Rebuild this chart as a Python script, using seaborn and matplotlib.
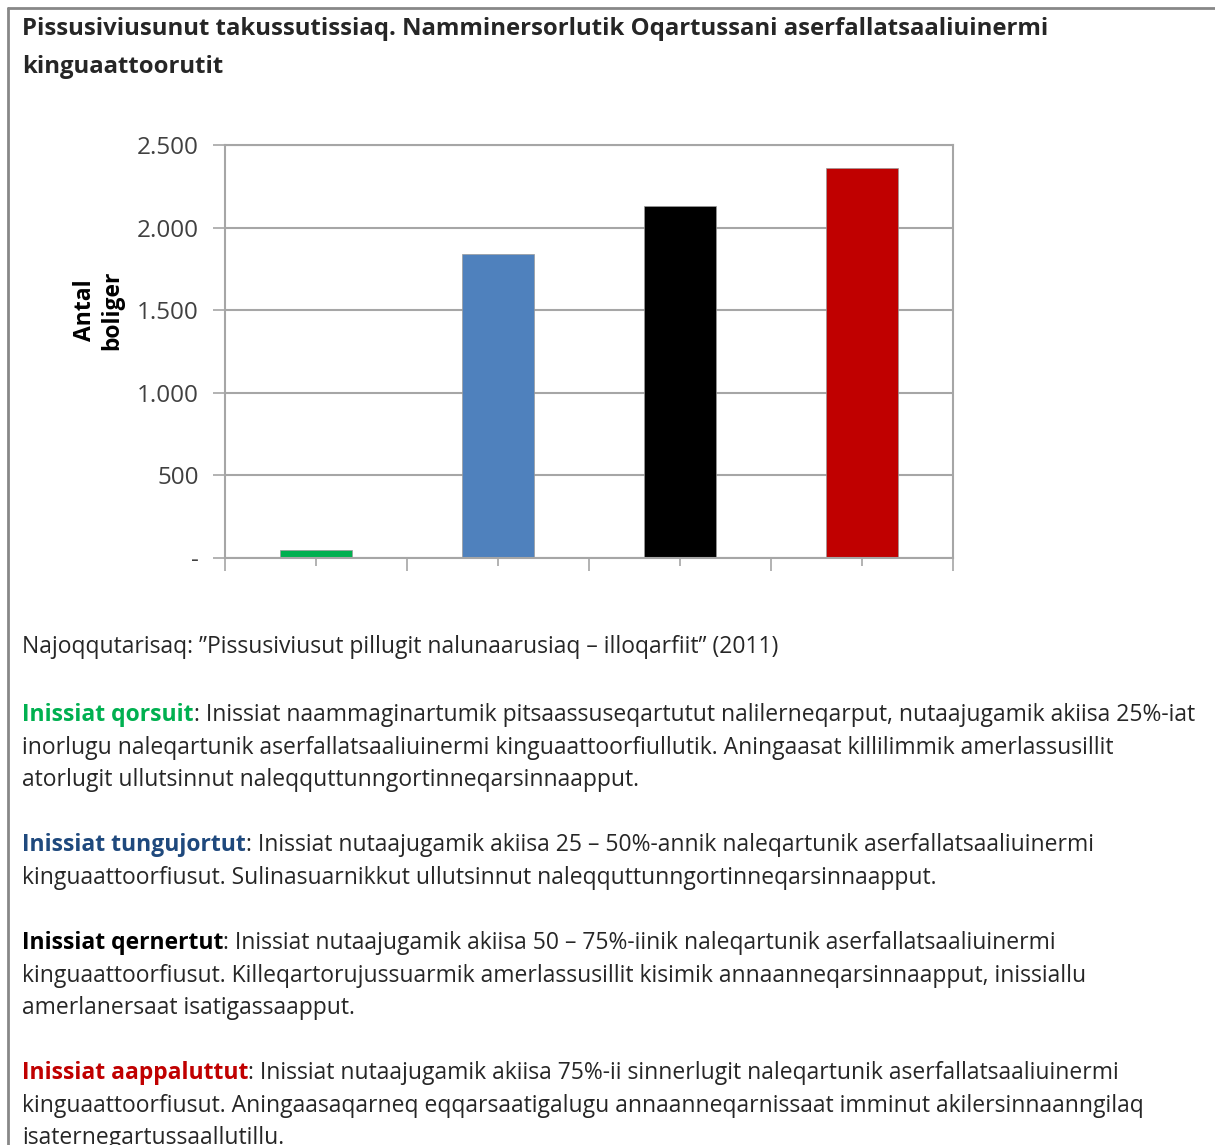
import matplotlib
matplotlib.use("Agg")
import matplotlib.pyplot as plt
import matplotlib.ticker as mticker
from matplotlib import font_manager
from matplotlib.lines import Line2D
import pandas as pd
import seaborn as sns

# data
categories = ["Inissiat qorsuit", "Inissiat tungujortut", "Inissiat qernertut", "Inissiat aappaluttut"]
values = [50, 1840, 2130, 2360]
bar_colors = ["#00b050", "#4f81bd", "#000000", "#c00000"]
y_ticks = [0, 500, 1000, 1500, 2000, 2500]

title = "Pissusiviusunut takussutissiaq. Namminersorlutik Oqartussani aserfallatsaaliuinermi\nkinguaattoorutit"
y_label = "Antal\nboliger"
source = "Najoqqutarisaq: \u201dPissusiviusut pillugit nalunaarusiaq \u2013 illoqarfiit\u201d (2011)"

paragraphs = [
    ("Inissiat qorsuit", "#00b050",
     [": Inissiat naammaginartumik pitsaassuseqartutut nalilerneqarput, nutaajugamik akiisa 25%-iat",
      "inorlugu naleqartunik aserfallatsaaliuinermi kinguaattoorfiullutik. Aningaasat killilimmik amerlassusillit",
      "atorlugit ullutsinnut naleqquttunngortinneqarsinnaapput."]),
    ("Inissiat tungujortut", "#1f497d",
     [": Inissiat nutaajugamik akiisa 25 \u2013 50%-annik naleqartunik aserfallatsaaliuinermi",
      "kinguaattoorfiusut. Sulinasuarnikkut ullutsinnut naleqquttunngortinneqarsinnaapput."]),
    ("Inissiat qernertut", "#000000",
     [": Inissiat nutaajugamik akiisa 50 \u2013 75%-iinik naleqartunik aserfallatsaaliuinermi",
      "kinguaattoorfiusut. Killeqartorujussuarmik amerlassusillit kisimik annaanneqarsinnaapput, inissiallu",
      "amerlanersaat isatigassaapput."]),
    ("Inissiat aappaluttut", "#c00000",
     [": Inissiat nutaajugamik akiisa 75%-ii sinnerlugit naleqartunik aserfallatsaaliuinermi",
      "kinguaattoorfiusut. Aningaasaqarneq eqqarsaatigalugu annaanneqarnissaat imminut akilersinnaanngilaq",
      "isaternegartussaallutillu."]),
]

sns.set_theme(style="white")
installed = {f.name for f in font_manager.fontManager.ttflist}
main_font = "Liberation Sans Narrow" if "Liberation Sans Narrow" in installed else "Open Sans"
plt.rcParams["font.family"] = [main_font, "DejaVu Sans"]

W, H = 1215, 1145
body_fs = 16.5
fig = plt.figure(figsize=(W / 100, H / 100), dpi=100)
ax = fig.add_axes([225 / W, 1 - 558 / H, (953 - 225) / W, (558 - 145) / H])

df = pd.DataFrame({"kategori": categories, "antal": values})
sns.barplot(data=df, x="kategori", y="antal", hue="kategori", palette=bar_colors,
            width=0.4, legend=False, ax=ax, saturation=1, edgecolor="#9a9a9a", linewidth=0.5)

grid_c = "#a6a6a6"
ax.set_ylim(0, 2500)
ax.set_xlim(-0.5, len(categories) - 0.5)
ax.set_yticks(y_ticks)
ax.yaxis.set_major_formatter(mticker.FuncFormatter(
    lambda v, p: "-" if v == 0 else f"{int(v):,}".replace(",", ".")))
ax.set_xticks([i - 0.5 for i in range(len(categories) + 1)])
ax.set_xticks(range(len(categories)), minor=True)
ax.set_xticklabels([])
ax.set_xlabel("")
ax.set_ylabel(y_label, fontsize=16.5, fontweight="bold", color="black")
ax.yaxis.set_label_coords(-0.138, 0.60)
ax.grid(axis="y", color=grid_c, linewidth=1.5)
ax.set_axisbelow(True)
ax.tick_params(axis="y", which="major", length=9, color=grid_c, width=1.2,
               labelsize=17.5, labelcolor="#404040", left=True, pad=10)
ax.tick_params(axis="x", which="major", length=9, color=grid_c, width=1.2, bottom=True)
ax.tick_params(axis="x", which="minor", length=6, color=grid_c, width=1.2, bottom=True)
for s in ax.spines.values():
    s.set_color(grid_c)
    s.set_linewidth(1.5)

# frame of the screenshot
fig.add_artist(Line2D([8 / W, 8 / W], [0, 1 - 8 / H], color="#888888", linewidth=2))
fig.add_artist(Line2D([8 / W, 1], [1 - 8 / H, 1 - 8 / H], color="#888888", linewidth=2))

fig.text(22 / W, 1 - 48 / H, title, fontsize=17.2, fontweight="bold", va="center",
         ha="left", linespacing=1.75)
fig.text(22 / W, 1 - 647 / H, source, fontsize=body_fs, va="center", ha="left")

renderer = fig.canvas.get_renderer()
line_h = 32.5
starts = [715, 845, 943, 1073]
for (head, col, lines), y0 in zip(paragraphs, starts):
    y = 1 - y0 / H
    t = fig.text(22 / W, y, head, fontsize=body_fs, fontweight="bold", color=col, va="center", ha="left")
    bb = t.get_window_extent(renderer)
    fig.text(bb.x1 / W, y, lines[0], fontsize=body_fs, va="center", ha="left")
    for k, ln in enumerate(lines[1:], start=1):
        fig.text(22 / W, 1 - (y0 + k * line_h) / H, ln, fontsize=body_fs, va="center", ha="left")

fig.savefig("out.png", dpi=100)
